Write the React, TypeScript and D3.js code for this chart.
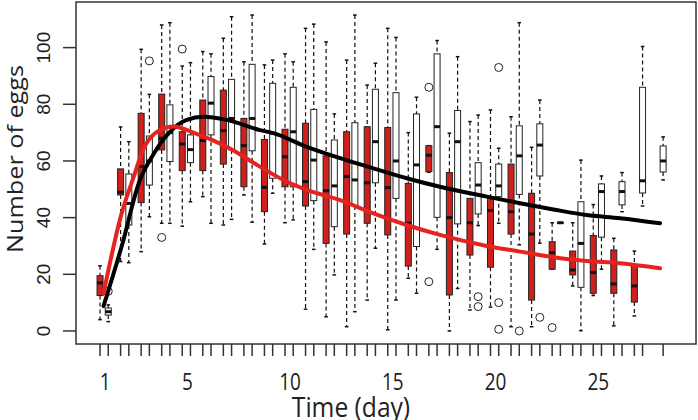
import React from "react";
import * as d3 from "d3";

const days = [1,2,3,4,5,6,7,8,9,10,11,12,13,14,15,16,17,18,19,20,21,22,23,24,25,26,27,28];

// red series (left box of each day); null = no box
const redLow  = [4,24.5,28,38,37,47.4,37.4,48,30.7,38.2,7.7,5,1.5,10.9,0.4,18.6,56,0,7.4,8.4,1.5,1.5,21.8,15.9,12.5,1.8,5.3,null];
const redQ1   = [12.5,48,45.3,63.9,56.6,56.6,58.9,50.9,42.1,50.9,44.1,30.9,34.2,38,33.9,22.9,56.2,12.7,26.8,22.5,34.2,10.9,21.8,19.8,13.3,13.3,10.2,null];
const redMed  = [17,49,58,68,66,67.2,70.7,65.4,50.7,61.5,52.7,49.5,54.5,52.3,50.6,38,62,40,38.2,42.5,42.1,34.2,27.6,21.5,20.6,16.6,15.9,null];
const redQ3   = [19.5,57.2,76.8,83.6,70.3,81.5,85,75,67.6,71.2,73.3,61.8,70.3,72.1,71.8,52.1,65.4,55.9,46.8,46.8,58.9,48.6,31.5,28.2,33.7,28.6,23.3,null];
const redHigh = [23,72,99.4,108,93.5,98.6,103.3,95,93.9,97.8,106.8,102,95.6,86.8,106.8,70,65.4,69.8,73.9,78,75.6,64.8,38.2,38.2,44.6,32.7,28.2,null];
const redOutliers: [number, number][] = [[4,33],[5,99.5],[17,86],[17,17.4],[23,1.2]];

// white series (right box of each day)
const whiteLow  = [3.3,24.1,40.3,38,45.6,38,39.4,38.4,48.6,39.2,28.8,19.8,6.8,29.2,10.9,13.3,28.8,15,37.2,38,30.4,31,38.2,0.1,21.8,42.1,44.1,53.3];
const whiteQ1   = [5.6,37.4,51.5,59.8,59.4,69.2,63.9,63.6,53.9,50.9,46,36.8,44.1,52.3,46.8,29.8,40.1,37.8,41.3,47.4,48.2,54.7,38.2,15.4,33.1,44.5,48.7,56.1];
const whiteMed  = [6.8,45,60,70,64,80.4,75,75,69.8,70.3,60.3,51.2,53.3,66.8,60,58.6,72.1,66.8,51.5,51.2,61.8,65.6,38.2,30.9,49.2,49.2,53,60];
const whiteQ3   = [8.1,55.4,68.8,79.8,69.2,89.8,88.8,94.1,87.4,86,78.2,67.4,73.5,85.3,84.1,76.6,97.8,77.8,59.4,58.9,72.4,73.1,38.2,45.6,51.9,52.7,86,65.3];
const whiteHigh = [9.2,66.8,83.5,108.8,94.7,97.8,110.9,111.5,95.6,95,108.3,76.6,111.5,94.5,103.6,82.5,102.5,96.8,76.2,64.5,108.8,81.5,38.2,60.3,54.7,55.9,100.4,68.5];
const whiteOutliers: [number, number][] = [[1,14],[3,95.3],[19,12.1],[19,8.6],[20,93],[20,10],[20,0.6],[21,0],[22,4.8]];

// fitted curves (day, value)
const blackCurveDay = [0.97,1.85,2.74,3.23,4.2,5.02,5.82,6.96,8.58,9.23,10.86,12.48,14.1,15.72,17.34,19.62,21.24,22.86,24.48,26.1,28.05];
const blackCurveVal = [8.8,29.8,53.3,60.3,70.3,74.5,75.6,74.5,70.9,69.8,65,61,57.4,53.9,50.9,47.4,45.1,42.9,40.9,39.8,38];
const redCurveDay = [0.97,1.85,2.42,2.9,3.72,4.37,5.34,6.96,8.58,9.72,10.86,12.48,14.1,15.72,17.34,19.62,21.24,22.86,24.48,26.1,28.05];
const redCurveVal = [13.3,41.5,54,64,70.9,72.2,70,65,58,53.3,49.8,46.2,41.5,37.4,33.9,30,28,26,24.7,23.9,22.1];

const xTickLabels = [1,5,10,15,20,25];
const yTicks = [0,20,40,60,80,100];

const W = 698, H = 420;
const L = 76, R = 696, T = 2, B = 344;
const OFFSET = 0.2;

export default function App() {
  const x = d3.scaleLinear().domain([-0.37, 29.8]).range([L, R]);
  const y = d3.scaleLinear().domain([-4.6, 116.1]).range([B, T]);
  const bw = 6;

  type Box = { pos: number; lo: number; q1: number; med: number; q3: number; hi: number; fill: string };
  const boxes: Box[] = [];
  days.forEach((d, i) => {
    if (redMed[i] != null) boxes.push({ pos: d - OFFSET, lo: redLow[i]!, q1: redQ1[i]!, med: redMed[i]!, q3: redQ3[i]!, hi: redHigh[i]!, fill: "#d11f1c" });
    if (whiteMed[i] != null) boxes.push({ pos: d + OFFSET, lo: whiteLow[i], q1: whiteQ1[i], med: whiteMed[i], q3: whiteQ3[i], hi: whiteHigh[i], fill: "#ffffff" });
  });
  const outliers = [
    ...redOutliers.map(([d, v]) => ({ pos: d - OFFSET, v })),
    ...whiteOutliers.map(([d, v]) => ({ pos: d + OFFSET, v })),
  ];

  const line = d3.line<[number, number]>().x(p => x(p[0])).y(p => y(p[1])).curve(d3.curveMonotoneX);
  const blackPts = blackCurveDay.map((d, i) => [d, blackCurveVal[i]] as [number, number]);
  const redPts = redCurveDay.map((d, i) => [d, redCurveVal[i]] as [number, number]);

  const sans = "'Open Sans', 'Noto Sans', sans-serif";

  return (
    <svg width={W} height={H} style={{ position: "absolute", left: 0, top: 0, background: "#fff" }}>
      <rect x={0} y={0} width={W} height={H} fill="#fff" />
      {boxes.map((b, i) => {
        const cx = x(b.pos);
        return (
          <g key={i}>
            <line x1={cx} x2={cx} y1={y(b.hi)} y2={y(b.q3)} stroke="#111" strokeWidth={1.2} strokeDasharray="4,3" />
            <line x1={cx} x2={cx} y1={y(b.q1)} y2={y(b.lo)} stroke="#111" strokeWidth={1.2} strokeDasharray="4,3" />
            <line x1={cx - 1.8} x2={cx + 1.8} y1={y(b.hi)} y2={y(b.hi)} stroke="#111" strokeWidth={1.5} />
            <line x1={cx - 1.8} x2={cx + 1.8} y1={y(b.lo)} y2={y(b.lo)} stroke="#111" strokeWidth={1.5} />
            <rect x={cx - bw / 2} y={y(b.q3)} width={bw} height={Math.max(0.5, y(b.q1) - y(b.q3))} fill={b.fill} stroke="#222" strokeWidth={1} />
            <line x1={cx - bw / 2} x2={cx + bw / 2} y1={y(b.med)} y2={y(b.med)} stroke="#111" strokeWidth={3} />
          </g>
        );
      })}
      {outliers.map((o, i) => (
        <circle key={i} cx={x(o.pos)} cy={y(o.v)} r={4} fill="none" stroke="#222" strokeWidth={1} />
      ))}
      <path d={line(blackPts)!} fill="none" stroke="#000" strokeWidth={4} strokeLinecap="round" />
      <path d={line(redPts)!} fill="none" stroke="#e8231f" strokeWidth={4} strokeLinecap="round" />
      <rect x={L} y={T} width={R - L} height={B - T} fill="none" stroke="#333" strokeWidth={1.5} />
      {yTicks.map(t => (
        <g key={t}>
          <line x1={L - 13} x2={L} y1={y(t)} y2={y(t)} stroke="#333" strokeWidth={1.5} />
          <text transform={`translate(${L - 26},${y(t)}) rotate(-90)`} textAnchor="middle" fontFamily="'Liberation Sans', Arial, sans-serif" fontSize={19} fill="#222">{t}</text>
        </g>
      ))}
      {boxes.map((b, i) => (
        <line key={i} x1={x(b.pos)} x2={x(b.pos)} y1={B} y2={B + 12} stroke="#333" strokeWidth={1.5} />
      ))}
      {xTickLabels.map(t => (
        <text key={t} transform={`translate(${x(t) + 1},390) scale(1.0,1.25)`} textAnchor="middle" fontFamily={sans} fontSize={19} fill="#222">{t}</text>
      ))}
      <text transform="translate(351,417) scale(1.07,1.15)" textAnchor="middle" fontFamily={sans} fontSize={23} fill="#222">Time (day)</text>
      <text transform="translate(23,159) rotate(-90) scale(1.2,1.0)" textAnchor="middle" fontFamily={sans} fontSize={21} fill="#222">Number of eggs</text>
    </svg>
  );
}
